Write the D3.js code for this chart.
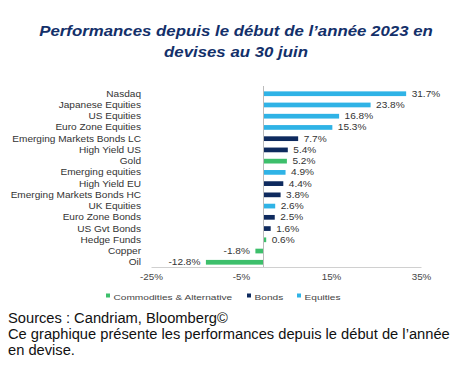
<!DOCTYPE html>
<html lang="fr">
<head>
<meta charset="UTF-8">
<title>Performances 2023</title>
<script src="https://cdnjs.cloudflare.com/ajax/libs/d3/7.8.5/d3.min.js"></script>
<style>
  body { margin: 0; background: #fff; }
  svg { display: block; font-family: "Liberation Sans", Arial, sans-serif; }
</style>
</head>
<body>
<div id="chart"></div>
<script>
  // data
  var categories = ["Nasdaq", "Japanese Equities", "US Equities", "Euro Zone Equities",
    "Emerging Markets Bonds LC", "High Yield US", "Gold", "Emerging equities",
    "High Yield EU", "Emerging Markets Bonds HC", "UK Equities", "Euro Zone Bonds",
    "US Gvt Bonds", "Hedge Funds", "Copper", "Oil"];
  var values = [31.7, 23.8, 16.8, 15.3, 7.7, 5.4, 5.2, 4.9, 4.4, 3.8, 2.6, 2.5, 1.6, 0.6, -1.8, -12.8];
  var groups = ["Equities", "Equities", "Equities", "Equities", "Bonds", "Bonds",
    "Commodities & Alternative", "Equities", "Bonds", "Bonds", "Equities", "Bonds",
    "Bonds", "Commodities & Alternative", "Commodities & Alternative", "Commodities & Alternative"];
  var legendKeys = ["Commodities & Alternative", "Bonds", "Equities"];
  var tickValues = [-25, -5, 15, 35];

  var W = 473, H = 383;
  var stretch = 1.2; // the chart text is a bit wider than plain Arial

  var color = d3.scaleOrdinal()
    .domain(legendKeys)
    .range(["#3dbf6b", "#0e2a5e", "#2fb3e6"]);

  var svg = d3.select("#chart").append("svg")
    .attr("width", W).attr("height", H);

  // title
  var titleLines = ["Performances depuis le début de l’année 2023 en", "devises au 30 juin"];
  svg.append("g").selectAll("text")
    .data(titleLines)
    .join("text")
    .attr("transform", (d, i) => "translate(236," + (36 + i * 21) + ") scale(1.1,1)")
    .attr("text-anchor", "middle")
    .attr("font-size", 15.3)
    .attr("font-weight", "bold")
    .attr("font-style", "italic")
    .attr("fill", "#13306a")
    .text(d => d);

  var x = d3.scaleLinear().domain([-25, 35]).range([151, 421]);
  var y = d3.scaleBand().domain(categories).range([88, 268]).paddingInner(0.58).paddingOuter(0.3);

  // category labels
  svg.append("g").selectAll("text")
    .data(categories)
    .join("text")
    .attr("transform", d => "translate(141," + (y(d) + y.bandwidth() / 2 + 3) + ") scale(" + stretch + ",1)")
    .attr("text-anchor", "end")
    .attr("font-size", 8.4)
    .attr("fill", "#333")
    .text(d => d);

  // bars
  svg.append("g").selectAll("rect")
    .data(values)
    .join("rect")
    .attr("x", d => x(Math.min(0, d)))
    .attr("y", (d, i) => y(categories[i]))
    .attr("width", d => Math.abs(x(d) - x(0)))
    .attr("height", y.bandwidth())
    .attr("fill", (d, i) => color(groups[i]));

  // value labels
  svg.append("g").selectAll("text")
    .data(values)
    .join("text")
    .attr("transform", (d, i) => "translate(" + (d >= 0 ? x(d) + 5.5 : x(d) - 5.5) + "," +
      (y(categories[i]) + y.bandwidth() / 2 + 3) + ") scale(" + stretch + ",1)")
    .attr("text-anchor", d => d >= 0 ? "start" : "end")
    .attr("font-size", 8.4)
    .attr("fill", "#333")
    .text(d => d.toFixed(1) + "%");

  // zero line
  svg.append("line")
    .attr("x1", x(0)).attr("x2", x(0))
    .attr("y1", 86).attr("y2", 267)
    .attr("stroke", "#bbb").attr("stroke-width", 1);

  // x axis
  var axis = svg.append("g")
    .attr("transform", "translate(0,267)")
    .call(d3.axisBottom(x).tickValues(tickValues).tickSize(0).tickPadding(7)
      .tickFormat(d => d + "%"));
  axis.select(".domain").attr("stroke", "#d0d0d0");
  axis.selectAll(".tick text")
    .attr("font-size", 8.2).attr("fill", "#444")
    .attr("font-family", "Liberation Sans, Arial, sans-serif")
    .attr("transform", "scale(" + stretch + ",1)")
    .attr("x", function(d) { return 0; });

  // legend
  var legendX = [106, 247, 297];
  var lg = svg.append("g").selectAll("g")
    .data(legendKeys)
    .join("g")
    .attr("transform", (d, i) => "translate(" + legendX[i] + ",297)");
  lg.append("rect").attr("x", 0).attr("y", -3.5).attr("width", 4).attr("height", 4)
    .attr("fill", d => color(d));
  lg.append("text")
    .attr("transform", "translate(7.5,2.5) scale(1.3,1)")
    .attr("font-size", 7.8).attr("fill", "#444")
    .text(d => d);

  // notes
  var notes = ["Sources : Candriam, Bloomberg©",
    "Ce graphique présente les performances depuis le début de l’année",
    "en devise."];
  svg.append("g").selectAll("text")
    .data(notes)
    .join("text")
    .attr("x", 8)
    .attr("y", (d, i) => 323 + i * 16)
    .attr("font-size", 14.7)
    .attr("fill", "#111")
    .text(d => d);
</script>
</body>
</html>
